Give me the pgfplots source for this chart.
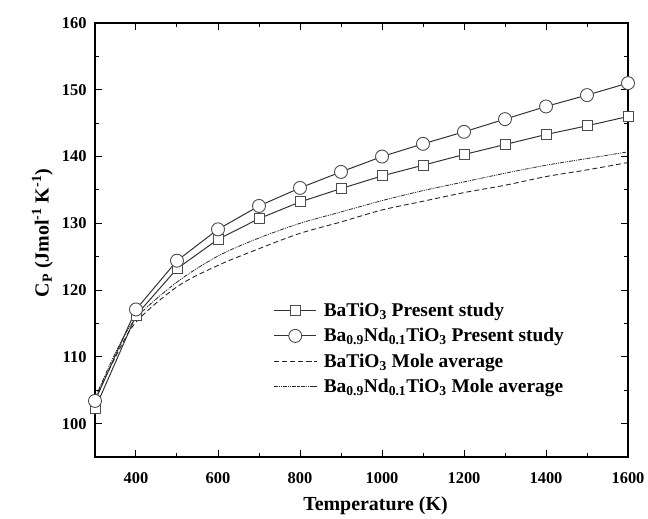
\documentclass[border=0pt]{standalone}
\usepackage{pgfplots}
\pgfplotsset{compat=1.18}
\usepackage{fontspec}
\setmainfont{Liberation Serif}

\begin{document}
\begin{tikzpicture}
\useasboundingbox (-95bp,-62bp) rectangle (553bp,457bp);
\begin{axis}[
    at={(0,0)}, anchor=south west,
    width=533bp, height=434bp,
    scale only axis,
    xmin=300, xmax=1600,
    ymin=95, ymax=160,
    xtick={400,600,...,1600},
    ytick={100,110,...,160},
    minor x tick num=1,
    minor y tick num=1,
    tick align=inside,
    major tick length=7bp,
    minor tick length=4bp,
    axis line style={line width=1.2bp},
    every tick/.style={line width=1bp, black},
    /pgf/number format/assume math mode=true,
    /pgf/number format/1000 sep={},
    tick label style={font=\fontsize{16.5}{19}\selectfont\bfseries},
    xticklabel style={yshift=-12bp},
    yticklabel style={xshift=-5bp},
    xlabel={Temperature (K)},
    ylabel={C\textsubscript{P} (Jmol\textsuperscript{-1} K\textsuperscript{-1})},
    label style={font=\fontsize{20}{24}\selectfont\bfseries},
    xlabel style={xshift=14bp, yshift=-6bp},
    ylabel style={yshift=2bp, xshift=7bp},
    legend style={draw=none, fill=none, at={(0.335,0.36)}, anchor=north west,
        font=\fontsize{19.5}{23}\selectfont\bfseries, row sep=6.5bp,
        inner sep=0pt},
    legend cell align=left,
    legend image code/.code={\draw[mark repeat=2,mark phase=2,#1]
        plot coordinates {(0bp,0bp) (21bp,0bp) (42bp,0bp)};
        \path (47bp,0bp);},
]
\addplot[black!80, line width=1bp, mark=square*, mark size=5bp,
    mark options={fill=white, draw=black!70, line width=0.9bp, solid}]
coordinates {
(300,102.2) (400,116.2) (500,123.2) (600,127.6) (700,130.7) (800,133.2)
(900,135.2) (1000,137.1) (1100,138.7) (1200,140.3) (1300,141.8)
(1400,143.3) (1500,144.6) (1600,146.0)
};
\addplot[black!80, line width=1bp, mark=*, mark size=6.5bp,
    mark options={fill=white, draw=black!70, line width=0.9bp, solid}]
coordinates {
(300,103.4) (400,117.1) (500,124.4) (600,129.1) (700,132.6) (800,135.3)
(900,137.7) (1000,140.0) (1100,141.9) (1200,143.7) (1300,145.6)
(1400,147.5) (1500,149.2) (1600,151.0)
};
\addplot[black!85, line width=0.9bp, dash pattern=on 5bp off 3bp, smooth]
coordinates {
(300,103.6) (350,110.0) (400,115.2) (500,120.5) (600,123.7) (700,126.2)
(800,128.5) (900,130.2) (1000,132.0) (1100,133.3) (1200,134.6)
(1300,135.7) (1400,137.0) (1500,138.0) (1600,139.1)
};
\addplot[black!85, line width=0.8bp,
    dash pattern=on 4bp off 1bp on 1bp off 1bp on 1bp off 1bp, smooth]
coordinates {
(300,103.8) (350,110.6) (400,115.8) (500,121.2) (600,125.1) (700,127.8)
(800,130.0) (900,131.7) (1000,133.4) (1100,134.9) (1200,136.2)
(1300,137.5) (1400,138.7) (1500,139.7) (1600,140.7)
};
\legend{BaTiO\textsubscript{3} Present study,
    Ba\textsubscript{0.9}Nd\textsubscript{0.1}TiO\textsubscript{3} Present study,
    BaTiO\textsubscript{3} Mole average,
    Ba\textsubscript{0.9}Nd\textsubscript{0.1}TiO\textsubscript{3} Mole average}
\end{axis}
\end{tikzpicture}
\end{document}
